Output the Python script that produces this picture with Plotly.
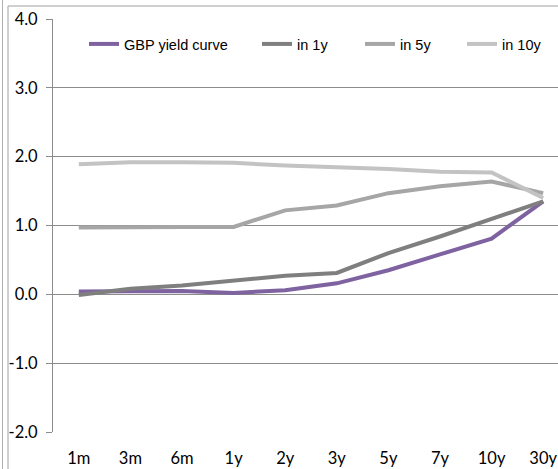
import plotly.graph_objects as go

# Tenors along the curve
tenors = ["1m", "3m", "6m", "1y", "2y", "3y", "5y", "7y", "10y", "30y"]

# Yields (%) for the current curve and the implied forward curves
gbp_curve = [0.04, 0.04, 0.05, 0.02, 0.06, 0.16, 0.35, 0.58, 0.81, 1.35]
fwd_1y = [-0.01, 0.08, 0.13, 0.20, 0.27, 0.31, 0.60, 0.84, 1.10, 1.35]
fwd_5y = [0.97, 0.98, 0.98, 0.98, 1.22, 1.29, 1.47, 1.57, 1.64, 1.47]
fwd_10y = [1.89, 1.92, 1.92, 1.91, 1.87, 1.85, 1.82, 1.78, 1.77, 1.40]

series_names = ["GBP yield curve", "in 1y", "in 5y", "in 10y"]
y_ticks = [-2.0, -1.0, 0.0, 1.0, 2.0, 3.0, 4.0]
y_tick_text = [f"{v:.1f}" for v in y_ticks]

W, H = 558, 469
ML, MR, MT, MB = 53, 0, 19, 37
PW, PH = W - ML - MR, H - MT - MB

colors = ["#7f63a1", "#7f7f7f", "#a6a6a6", "#c3c3c3"]
legend_left_px = [84, 257, 360, 462]
legend_keys = ["legend", "legend2", "legend3", "legend4"]

fig = go.Figure()
for name, vals, col, lk in zip(series_names, [gbp_curve, fwd_1y, fwd_5y, fwd_10y], colors, legend_keys):
    fig.add_trace(go.Scatter(
        x=tenors, y=vals, name=name, mode="lines",
        line=dict(color=col, width=4),
        legend=lk, hoverinfo="skip",
    ))

grid_col = "#8c8c8c"
tick_font = dict(family="Lato, Carlito, 'Liberation Sans', sans-serif", size=16.5, color="#000000")
leg_font = dict(family="'Liberation Sans', Arial, sans-serif", size=14.5, color="#000000")

# right end of the category range falls just outside the visible area
x_range = [-0.5, 9.5 - 11 / (PW / 9.787)]


def px_to_paper_x(px):
    return (px - ML) / PW


def px_to_paper_y(py):
    return (H - MB - py) / PH


layout = dict(
    width=W, height=H,
    margin=dict(l=ML, r=MR, t=MT, b=MB, pad=0, autoexpand=False),
    paper_bgcolor="white", plot_bgcolor="white",
    showlegend=True,
    xaxis=dict(
        type="category", categoryorder="array", categoryarray=tenors,
        range=x_range, showgrid=False, zeroline=False, showline=False,
        ticks="", tickfont=tick_font, ticklabelstandoff=14, automargin=False,
    ),
    xaxis2=dict(
        overlaying="x", anchor="free", position=2 / 6,
        range=x_range, tickvals=[i + 0.5 for i in range(len(tenors))],
        showticklabels=False, ticks="outside", ticklen=5, tickcolor=grid_col,
        showline=True, linecolor=grid_col, linewidth=1,
        showgrid=False, zeroline=False, automargin=False,
    ),
    yaxis=dict(
        range=[-2, 4], tickvals=y_ticks, ticktext=y_tick_text,
        showgrid=True, gridcolor=grid_col, gridwidth=1, zeroline=False,
        showline=True, linecolor=grid_col, linewidth=1,
        ticks="outside", ticklen=6, tickcolor=grid_col,
        tickfont=tick_font, ticklabelstandoff=5, automargin=False,
    ),
    shapes=[
        # chart-area border
        dict(type="line", xref="paper", yref="paper",
             x0=px_to_paper_x(8), x1=px_to_paper_x(8),
             y0=px_to_paper_y(6), y1=px_to_paper_y(H + 2),
             line=dict(color="#a0a0a0", width=1)),
        dict(type="line", xref="paper", yref="paper",
             x0=px_to_paper_x(8), x1=px_to_paper_x(W + 2),
             y0=px_to_paper_y(6), y1=px_to_paper_y(6),
             line=dict(color="#a0a0a0", width=1)),
        # outer frame edge
        dict(type="line", xref="paper", yref="paper",
             x0=px_to_paper_x(2.5), x1=px_to_paper_x(2.5),
             y0=px_to_paper_y(-2), y1=px_to_paper_y(H + 2),
             line=dict(color="#b0b0b0", width=1)),
    ],
)
for lk, lx in zip(legend_keys, legend_left_px):
    layout[lk] = dict(
        orientation="h", xref="paper", yref="paper",
        x=px_to_paper_x(lx), xanchor="left", y=px_to_paper_y(44), yanchor="middle",
        bgcolor="rgba(0,0,0,0)", borderwidth=0, font=leg_font,
        itemwidth=30,
    )

fig.update_layout(**layout)
fig.write_html("out.html")
